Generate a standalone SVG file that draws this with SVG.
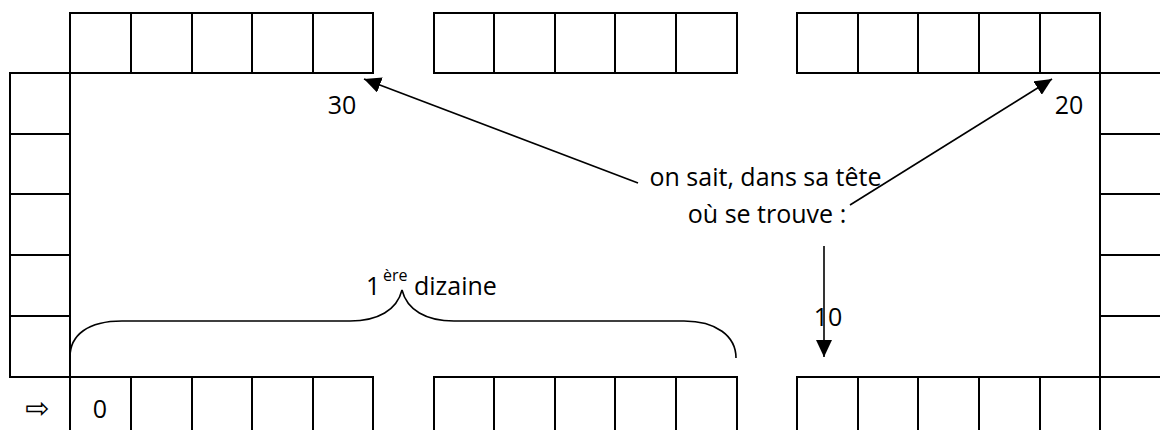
<svg xmlns="http://www.w3.org/2000/svg" width="1160" height="430" viewBox="0 0 1160 430">
  <style>
    .cell { fill: none; stroke: #000; stroke-width: 2; }
    .lbl { font-family: "Open Sans", "Liberation Sans", sans-serif; font-size: 25px; fill: #000; }
    .sup { font-family: "Open Sans", "Liberation Sans", sans-serif; font-size: 16px; fill: #000; }
    .sym { font-family: "DejaVu Sans", sans-serif; font-size: 29px; fill: #000; }
    .conn { fill: none; stroke: #000; stroke-width: 1.6; }
    .brace { fill: none; stroke: #000; stroke-width: 1.6; }
  </style>
  <defs>
    <marker id="head" markerUnits="userSpaceOnUse" markerWidth="17" markerHeight="16" viewBox="0 0 17 16" refX="17" refY="8" orient="auto">
      <path d="M0,0 L17,8 L0,16 z" fill="#000"/>
    </marker>
  </defs>

  <rect width="1160" height="430" fill="#fff"/>

  <!-- top track, three blocks of five squares -->
  <g id="top-left">
    <rect class="cell" x="70" y="13" width="61" height="60"/>
    <rect class="cell" x="131" y="13" width="61" height="60"/>
    <rect class="cell" x="192" y="13" width="60" height="60"/>
    <rect class="cell" x="252" y="13" width="61" height="60"/>
    <rect class="cell" x="313" y="13" width="60" height="60"/>
  </g>
  <g id="top-middle">
    <rect class="cell" x="434" y="13" width="60" height="60"/>
    <rect class="cell" x="494" y="13" width="61" height="60"/>
    <rect class="cell" x="555" y="13" width="60" height="60"/>
    <rect class="cell" x="615" y="13" width="61" height="60"/>
    <rect class="cell" x="676" y="13" width="61" height="60"/>
  </g>
  <g id="top-right">
    <rect class="cell" x="797" y="13" width="61" height="60"/>
    <rect class="cell" x="858" y="13" width="60" height="60"/>
    <rect class="cell" x="918" y="13" width="61" height="60"/>
    <rect class="cell" x="979" y="13" width="61" height="60"/>
    <rect class="cell" x="1040" y="13" width="60" height="60"/>
  </g>

  <!-- right column, running off the right edge -->
  <g id="right-column">
    <rect class="cell" x="1100" y="73" width="62" height="61"/>
    <rect class="cell" x="1100" y="134" width="62" height="60"/>
    <rect class="cell" x="1100" y="194" width="62" height="61"/>
    <rect class="cell" x="1100" y="255" width="62" height="61"/>
    <rect class="cell" x="1100" y="316" width="62" height="61"/>
    <rect class="cell" x="1100" y="377" width="62" height="60"/>
  </g>

  <!-- left column -->
  <g id="left-column">
    <rect class="cell" x="10" y="73" width="60" height="61"/>
    <rect class="cell" x="10" y="134" width="60" height="60"/>
    <rect class="cell" x="10" y="194" width="60" height="61"/>
    <rect class="cell" x="10" y="255" width="60" height="61"/>
    <rect class="cell" x="10" y="316" width="60" height="61"/>
  </g>

  <!-- bottom track, running off the bottom edge -->
  <g id="bottom-left">
    <rect class="cell" x="70" y="377" width="61" height="60"/>
    <rect class="cell" x="131" y="377" width="61" height="60"/>
    <rect class="cell" x="192" y="377" width="60" height="60"/>
    <rect class="cell" x="252" y="377" width="61" height="60"/>
    <rect class="cell" x="313" y="377" width="60" height="60"/>
  </g>
  <g id="bottom-middle">
    <rect class="cell" x="434" y="377" width="60" height="60"/>
    <rect class="cell" x="494" y="377" width="61" height="60"/>
    <rect class="cell" x="555" y="377" width="60" height="60"/>
    <rect class="cell" x="615" y="377" width="61" height="60"/>
    <rect class="cell" x="676" y="377" width="61" height="60"/>
  </g>
  <g id="bottom-right">
    <rect class="cell" x="797" y="377" width="61" height="60"/>
    <rect class="cell" x="858" y="377" width="60" height="60"/>
    <rect class="cell" x="918" y="377" width="61" height="60"/>
    <rect class="cell" x="979" y="377" width="61" height="60"/>
    <rect class="cell" x="1040" y="377" width="60" height="60"/>
  </g>

  <!-- start marker and first square -->
  <g id="start">
    <text class="sym" x="37.5" y="418" text-anchor="middle">⇨</text>
    <text class="lbl" x="100" y="418" text-anchor="middle">0</text>
  </g>

  <!-- tens labels -->
  <g id="label-10"><text class="lbl" x="828" y="326" text-anchor="middle">10</text></g>
  <g id="label-20"><text class="lbl" x="1069" y="114" text-anchor="middle">20</text></g>
  <g id="label-30"><text class="lbl" x="342" y="114" text-anchor="middle">30</text></g>

  <!-- central note -->
  <g id="note">
    <text class="lbl" x="765.5" y="186" text-anchor="middle">on sait, dans sa tête</text>
    <text class="lbl" x="767" y="223" text-anchor="middle">où se trouve :</text>
  </g>

  <!-- first ten brace -->
  <g id="first-ten">
    <path class="brace" d="M70,357 C70,335 88,321 122,321 L350,321 C378,321 397,310 402,290 C407,310 426,321 454,321 L684,321 C716,321 736,336 736,358"/>
    <text class="lbl" x="366" y="295">1</text>
    <text class="sup" x="383" y="281">ère</text>
    <text class="lbl" x="414" y="295">dizaine</text>
  </g>

  <!-- arrows from the note -->
  <g id="connectors">
    <line class="conn" x1="638" y1="183" x2="364" y2="79" marker-end="url(#head)"/>
    <line class="conn" x1="850" y1="205" x2="1052" y2="79" marker-end="url(#head)"/>
    <line class="conn" x1="824" y1="246" x2="824" y2="357" marker-end="url(#head)"/>
  </g>
</svg>
